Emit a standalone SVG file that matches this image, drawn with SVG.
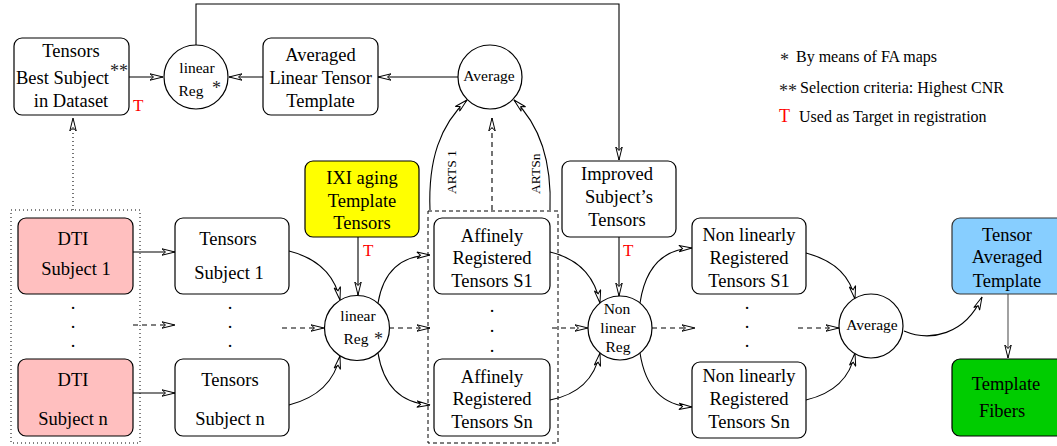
<svg xmlns="http://www.w3.org/2000/svg" width="1057" height="446" viewBox="0 0 1057 446">
<style>
.box{fill:#fff;stroke:#000;stroke-width:1.2}
.t{font-family:"Liberation Serif","Times New Roman",serif;font-size:18.5px;text-anchor:middle;fill:#000}
.c{font-size:15.5px}
.lg{font-family:"Liberation Serif","Times New Roman",serif;font-size:16px;fill:#000}
.red{font-family:"Liberation Serif","Times New Roman",serif;font-size:17px;fill:#ff0000}
.ast{font-family:"Liberation Serif","Times New Roman",serif;font-size:18px;fill:#222}
.e{fill:none;stroke:#000;stroke-width:1.1}
.d{stroke-dasharray:5,4}
.dt{stroke-dasharray:1,3}
</style>
<defs>
<marker id="ah" viewBox="0 0 14 8" refX="13.5" refY="4" markerWidth="14" markerHeight="8" markerUnits="userSpaceOnUse" orient="auto">
<path d="M0.5,0.8 L13.5,4 L0.5,7.2 L4,4 Z" fill="#fff" stroke="#000" stroke-width="1"/>
</marker>
</defs>
<rect width="1057" height="446" fill="#fff"/>

<g id="connectors">
<path class="e" d="M129,77 L163,77" marker-end="url(#ah)"/>
<path class="e" d="M263,77 L229,77" marker-end="url(#ah)"/>
<path class="e" d="M458,77 L378,77" marker-end="url(#ah)"/>
<path class="e" d="M196,45 L196,4 L619,4 L619,160" marker-end="url(#ah)"/>
<path class="e" d="M430,210 C428,160 440,125 467,100" marker-end="url(#ah)"/>
<path class="e" d="M550,210 C552,160 540,125 514,100" marker-end="url(#ah)"/>
<path class="e d" d="M492,210 L492,118" marker-end="url(#ah)"/>
<path class="e dt" d="M73,210 L73,118" marker-end="url(#ah)"/>
<path class="e" d="M133,252 L175,252" marker-end="url(#ah)"/>
<path class="e" d="M133,393 L175,393" marker-end="url(#ah)"/>
<path class="e d" d="M133,325 L175,325" marker-end="url(#ah)"/>
<path class="e d" d="M282,328 L324,328" marker-end="url(#ah)"/>
<path class="e d" d="M389,328 L430,328" marker-end="url(#ah)"/>
<path class="e d" d="M552,328 L588,328" marker-end="url(#ah)"/>
<path class="e d" d="M652,328 L695,328" marker-end="url(#ah)"/>
<path class="e d" d="M798,328 L839,328" marker-end="url(#ah)"/>
<path class="e" d="M358,237 L358,295" marker-end="url(#ah)"/>
<path class="e" d="M619,237 L619,296" marker-end="url(#ah)"/>
<path class="e" d="M289,251 Q332,262 340,300" marker-end="url(#ah)"/>
<path class="e" d="M289,405 Q332,394 340,356" marker-end="url(#ah)"/>
<path class="e" d="M378,303 Q386,256 430,255" marker-end="url(#ah)"/>
<path class="e" d="M378,353 Q386,402 430,405" marker-end="url(#ah)"/>
<path class="e" d="M550,252 Q592,262 600,303" marker-end="url(#ah)"/>
<path class="e" d="M550,400 Q592,392 600,353" marker-end="url(#ah)"/>
<path class="e" d="M640,303 Q648,250 692,248" marker-end="url(#ah)"/>
<path class="e" d="M640,353 Q648,405 692,407" marker-end="url(#ah)"/>
<path class="e" d="M806,253 Q848,264 855,299" marker-end="url(#ah)"/>
<path class="e" d="M806,400 Q848,390 855,353" marker-end="url(#ah)"/>
<path class="e" d="M904,331 C930,342 965,335 982,297" marker-end="url(#ah)"/>
<path class="e" style="stroke:#555" d="M1008,294 L1008,358" marker-end="url(#ah)"/>
<text class="t" style="font-size:13.5px;text-anchor:start" transform="translate(456,194) rotate(-90)">ARTS 1</text>
<text class="t" style="font-size:13.5px;text-anchor:start" transform="translate(540,194) rotate(-90)">ARTSn</text>
</g>

<g id="group-dti">
<rect x="11" y="210" width="129" height="233" fill="none" stroke="#000" stroke-width="1" stroke-dasharray="1,3"/>
</g>
<g id="group-affine">
<rect x="428" y="211" width="130" height="232" fill="none" stroke="#000" stroke-width="1" stroke-dasharray="4,3"/>
</g>

<g id="best-subject">
<rect class="box" x="14" y="38" width="115" height="77" rx="8"/>
<text class="t" x="71" y="57">Tensors</text>
<text class="t" x="16" y="84" style="text-anchor:start">Best Subject</text>
<text class="ast" x="110" y="77">**</text>
<text class="t" x="71" y="107">in Dataset</text>
<text class="red" x="133" y="111">T</text>
</g>

<g id="linear-reg-top">
<circle class="box" cx="196" cy="77" r="32"/>
<text class="t c" x="197" y="73">linear</text>
<text class="t c" x="191" y="96">Reg</text>
<text class="ast" x="212" y="94">*</text>
</g>

<g id="averaged-linear">
<rect class="box" x="263" y="38" width="115" height="77" rx="8"/>
<text class="t" x="320.5" y="61">Averaged</text>
<text class="t" x="320.5" y="84">Linear Tensor</text>
<text class="t" x="320.5" y="107">Template</text>
</g>

<g id="average-top">
<circle class="box" cx="490" cy="77" r="32"/>
<text class="t c" x="489" y="81">Average</text>
</g>

<g id="legend">
<text class="ast" x="780" y="66">*</text>
<text class="lg" x="796" y="62">By means of FA maps</text>
<text class="ast" x="779" y="97">**</text>
<text class="lg" x="800" y="93">Selection criteria: Highest CNR</text>
<text class="red" x="779" y="122" style="font-size:18px">T</text>
<text class="lg" x="799" y="122">Used as Target in registration</text>
</g>

<g id="dti-1">
<rect class="box" x="18" y="218" width="115" height="76" rx="8" style="fill:#ffbfbf"/>
<text class="t" x="73" y="245">DTI</text>
<text class="t" x="76" y="275">Subject 1</text>
</g>
<g id="dti-dots">
<text class="t" x="73" y="309">.</text>
<text class="t" x="73" y="328">.</text>
<text class="t" x="73" y="347">.</text>
</g>
<g id="dti-n">
<rect class="box" x="18" y="359" width="115" height="77" rx="8" style="fill:#ffbfbf"/>
<text class="t" x="73" y="386">DTI</text>
<text class="t" x="73" y="425">Subject n</text>
</g>

<g id="tensors-1">
<rect class="box" x="175" y="218" width="114" height="76" rx="8"/>
<text class="t" x="228" y="245">Tensors</text>
<text class="t" x="229" y="279">Subject 1</text>
</g>
<g id="tensors-dots">
<text class="t" x="230" y="309">.</text>
<text class="t" x="230" y="328">.</text>
<text class="t" x="230" y="347">.</text>
</g>
<g id="tensors-n">
<rect class="box" x="175" y="359" width="114" height="77" rx="8"/>
<text class="t" x="230" y="386">Tensors</text>
<text class="t" x="230" y="425">Subject n</text>
</g>

<g id="ixi">
<rect class="box" x="305" y="161" width="114" height="76" rx="8" style="fill:#ffff00"/>
<text class="t" x="362" y="184">IXI aging</text>
<text class="t" x="362" y="207">Template</text>
<text class="t" x="362" y="229">Tensors</text>
<text class="red" x="363" y="256">T</text>
</g>

<g id="linear-reg-mid">
<circle class="box" cx="357" cy="328" r="32.5"/>
<text class="t c" x="358" y="321">linear</text>
<text class="t c" x="356" y="344">Reg</text>
<text class="ast" x="374" y="345">*</text>
</g>

<g id="affine-1">
<rect class="box" x="434" y="218" width="116" height="76" rx="8"/>
<text class="t" x="492" y="242">Affinely</text>
<text class="t" x="492" y="264">Registered</text>
<text class="t" x="492" y="287">Tensors S1</text>
</g>
<g id="affine-dots">
<text class="t" x="492" y="312">.</text>
<text class="t" x="492" y="332">.</text>
<text class="t" x="492" y="352">.</text>
</g>
<g id="affine-n">
<rect class="box" x="434" y="359" width="116" height="77" rx="8"/>
<text class="t" x="492" y="383">Affinely</text>
<text class="t" x="492" y="405">Registered</text>
<text class="t" x="492" y="428">Tensors Sn</text>
</g>

<g id="improved">
<rect class="box" x="562" y="161" width="114" height="76" rx="8"/>
<text class="t" x="617" y="180">Improved</text>
<text class="t" x="619" y="203">Subject’s</text>
<text class="t" x="617" y="226">Tensors</text>
<text class="red" x="623" y="256">T</text>
</g>

<g id="nonlinear-reg">
<circle class="box" cx="620" cy="328" r="32"/>
<text class="t c" x="617" y="314">Non</text>
<text class="t c" x="618" y="333">linear</text>
<text class="t c" x="618" y="352">Reg</text>
</g>

<g id="nonlin-1">
<rect class="box" x="692" y="218" width="114" height="76" rx="8"/>
<text class="t" x="749" y="241">Non linearly</text>
<text class="t" x="749" y="264">Registered</text>
<text class="t" x="749" y="287">Tensors S1</text>
</g>
<g id="nonlin-dots">
<text class="t" x="747" y="309">.</text>
<text class="t" x="747" y="328">.</text>
<text class="t" x="747" y="347">.</text>
</g>
<g id="nonlin-n">
<rect class="box" x="692" y="362" width="114" height="76" rx="8"/>
<text class="t" x="749" y="382">Non linearly</text>
<text class="t" x="749" y="405">Registered</text>
<text class="t" x="749" y="428">Tensors Sn</text>
</g>

<g id="average-right">
<circle class="box" cx="871" cy="326" r="32"/>
<text class="t c" x="872" y="330">Average</text>
</g>

<g id="tensor-template">
<rect class="box" x="952" y="218" width="116" height="76" rx="8" style="fill:#87ceff;stroke:#333"/>
<text class="t" x="1007" y="241">Tensor</text>
<text class="t" x="1007" y="263">Averaged</text>
<text class="t" x="1007" y="287">Template</text>
</g>

<g id="template-fibers">
<rect class="box" x="952" y="359" width="116" height="77" rx="8" style="fill:#00cc00"/>
<text class="t" x="1006" y="390">Template</text>
<text class="t" x="1002" y="417">Fibers</text>
</g>
</svg>
